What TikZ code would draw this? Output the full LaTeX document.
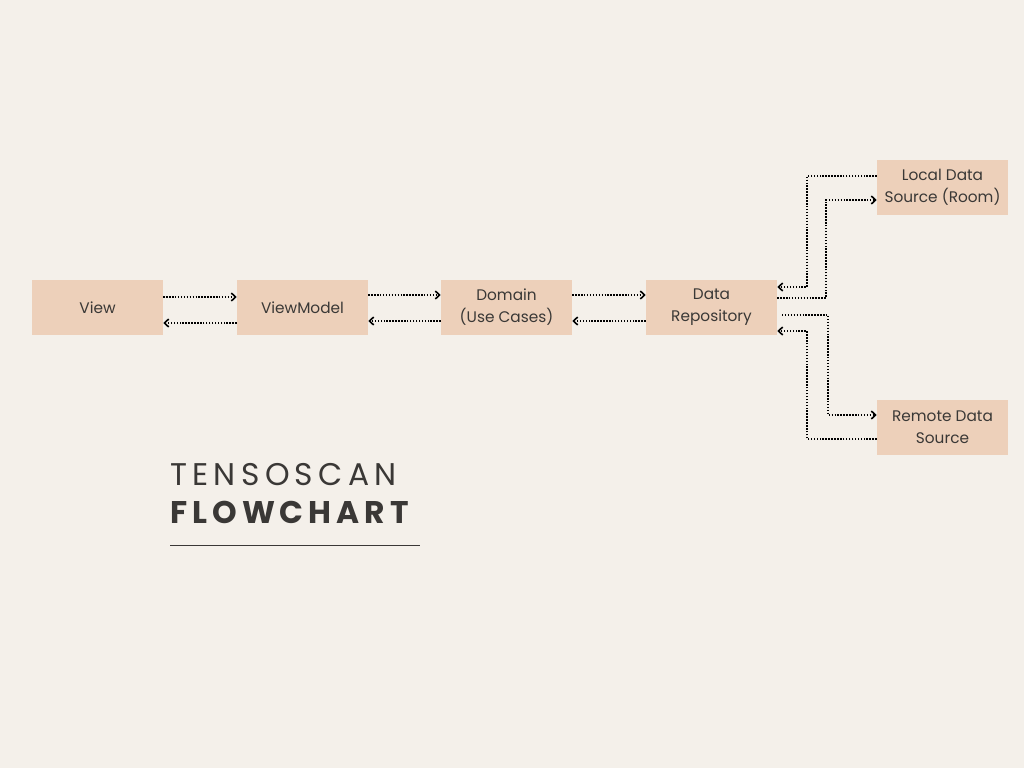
\documentclass[tikz,border=0pt]{standalone}
\usepackage{fontspec}
\setmainfont{Poppins}
\newfontfamily\titlefont[LetterSpace=17]{Poppins}
\newfontfamily\titleboldfont[LetterSpace=16]{Poppins Bold}
\usetikzlibrary{arrows.meta}
\definecolor{bgc}{RGB}{244,240,234}
\definecolor{boxc}{RGB}{237,208,186}
\definecolor{txtc}{RGB}{58,56,54}
\tikzset{
  box/.style={fill=boxc, draw=none, minimum width=98.25pt, minimum height=41.25pt, inner sep=0pt, align=center, text=txtc, font=\fontsize{11.5pt}{16.5pt}\selectfont},
  conn/.style={line width=1.1pt, dash pattern=on 1.1pt off 1.1pt, -{Straight Barb[length=3.2pt,width=6pt,line width=1.2pt]}, black}
}
\begin{document}
\begin{tikzpicture}[x=0.75pt,y=-0.75pt]
\fill[bgc] (0,0) rectangle (1024,768);
\useasboundingbox (0,0) rectangle (1024,768);
\node[box] (view) at (97.5,307.5) {View};
\node[box] (vm) at (302.5,307.5) {ViewModel};
\node[box] (dom) at (506.5,307.5) {Domain\\(Use Cases)};
\node[box] (repo) at (711.5,307.5) {Data\\Repository};
\node[box] (loc) at (942.5,187.5) {Local Data\\Source (Room)};
\node[box] (rem) at (942.5,427.5) {Remote Data\\Source};
% horizontal
\draw[conn] (view.east |- 0,297) -- (vm.west |- 0,297);
\draw[conn] (vm.west |- 0,323) -- (view.east |- 0,323);
\draw[conn] (vm.east |- 0,295) -- (dom.west |- 0,295);
\draw[conn] (dom.west |- 0,321) -- (vm.east |- 0,321);
\draw[conn] (dom.east |- 0,295) -- (repo.west |- 0,295);
\draw[conn] (repo.west |- 0,321) -- (dom.east |- 0,321);
% branches
\draw[conn] (loc.west |- 0,176) -| (807,287) -- (repo.east |- 0,287);
\draw[conn] (repo.east |- 0,298) -| (826,200) -- (loc.west |- 0,200);
\coordinate (rs) at (782,315);
\draw[conn] (rs) -| (828,415) -- (rem.west |- 0,415);
\draw[conn] (rem.west |- 0,439) -| (807,331) -- (repo.east |- 0,331);
% title
\node[anchor=base west, inner sep=0pt, text=txtc, font=\titlefont\fontsize{23.5pt}{23.5pt}\selectfont] (t1) at (170,485) {TENSOSCAN};
\node[anchor=base west, inner sep=0pt, text=txtc, font=\titleboldfont\fontsize{23.5pt}{23.5pt}\selectfont] (t2) at (170,523) {FLOWCHART};
\draw[txtc, line width=0.9pt] (170,545.5) -- (420,545.5);
\end{tikzpicture}
\end{document}
